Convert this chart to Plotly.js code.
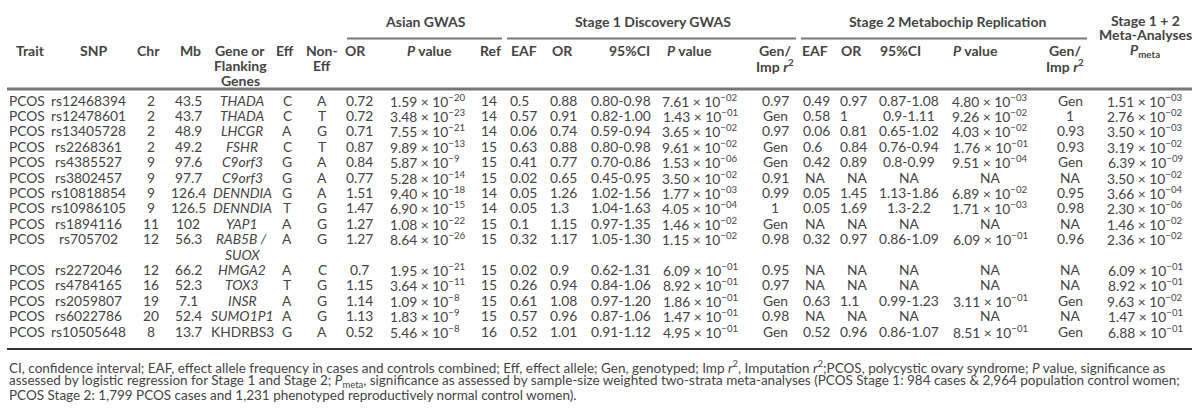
<!DOCTYPE html>
<html><head><meta charset="utf-8">
<script src="https://cdn.plot.ly/plotly-3.0.1.min.js"></script>
<style>html,body{margin:0;padding:0;background:#fff}#chart{width:1200px;height:414px}</style>
</head><body><div id="chart"></div>
<script>
// ---- data ----
const trait = ["PCOS","PCOS","PCOS","PCOS","PCOS","PCOS","PCOS","PCOS","PCOS","PCOS","PCOS","PCOS","PCOS","PCOS","PCOS"];
const snp = ["rs12468394","rs12478601","rs13405728","rs2268361","rs4385527","rs3802457","rs10818854","rs10986105","rs1894116","rs705702","rs2272046","rs4784165","rs2059807","rs6022786","rs10505648"];
const chr = ["2","2","2","2","9","9","9","9","11","12","12","16","19","20","8"];
const mb = ["43.5","43.7","48.9","49.2","97.6","97.7","126.4","126.5","102","56.3","66.2","52.3","7.1","52.4","13.7"];
const gene = ["THADA","THADA","LHCGR","FSHR","C9orf3","C9orf3","DENNDIA","DENNDIA","YAP1","RAB5B /|SUOX","HMGA2","TOX3","INSR","SUMO1P1","KHDRBS3"];
const geneItalic = [true,true,true,true,true,true,true,true,true,true,true,true,true,true,false];
const eff = ["C","C","A","C","G","G","G","T","A","A","A","T","A","A","G"];
const nonEff = ["A","T","G","T","A","A","A","G","G","G","C","G","G","G","A"];
const asianOR = ["0.72","0.72","0.71","0.87","0.84","0.77","1.51","1.47","1.27","1.27","0.7","1.15","1.14","1.13","0.52"];
const asianPMant = ["1.59","3.48","7.55","9.89","5.87","5.28","9.40","6.90","1.08","8.64","1.95","3.64","1.09","1.83","5.46"];
const asianPExp = ["20","23","21","13","9","14","18","15","22","26","21","11","8","9","8"];
const ref = ["14","14","14","15","15","15","14","14","15","15","15","15","15","15","16"];
const s1EAF = ["0.5","0.57","0.06","0.63","0.41","0.02","0.05","0.05","0.1","0.32","0.02","0.26","0.61","0.57","0.52"];
const s1OR = ["0.88","0.91","0.74","0.88","0.77","0.65","1.26","1.3","1.15","1.17","0.9","0.94","1.08","0.96","1.01"];
const s1CI = ["0.80-0.98","0.82-1.00","0.59-0.94","0.80-0.98","0.70-0.86","0.45-0.95","1.02-1.56","1.04-1.63","0.97-1.35","1.05-1.30","0.62-1.31","0.84-1.06","0.97-1.20","0.87-1.06","0.91-1.12"];
const s1PMant = ["7.61","1.43","3.65","9.61","1.53","3.50","1.77","4.05","1.46","1.15","6.09","8.92","1.86","1.47","4.95"];
const s1PExp = ["02","01","02","02","06","02","03","04","02","02","01","01","01","01","01"];
const s1Imp = ["0.97","Gen","0.97","Gen","Gen","0.91","0.99","1","Gen","0.98","0.95","0.97","Gen","0.98","Gen"];
const s2EAF = ["0.49","0.58","0.06","0.6","0.42","NA","0.05","0.05","NA","0.32","NA","NA","0.63","NA","0.52"];
const s2OR = ["0.97","1","0.81","0.84","0.89","NA","1.45","1.69","NA","0.97","NA","NA","1.1","NA","0.96"];
const s2CI = ["0.87-1.08","0.9-1.11","0.65-1.02","0.76-0.94","0.8-0.99","NA","1.13-1.86","1.3-2.2","NA","0.86-1.09","NA","NA","0.99-1.23","NA","0.86-1.07"];
const s2PMant = ["4.80","9.26","4.03","1.76","9.51","NA","6.89","1.71","NA","6.09","NA","NA","3.11","NA","8.51"];
const s2PExp = ["03","02","02","01","04","","02","03","","01","","","01","","01"];
const s2Imp = ["Gen","1","0.93","0.93","Gen","NA","0.95","0.98","NA","0.96","NA","NA","Gen","NA","Gen"];
const pMetaMant = ["1.51","2.76","3.50","3.19","6.39","3.50","3.66","2.30","1.46","2.36","6.09","8.92","9.63","1.47","6.88"];
const pMetaExp = ["03","02","03","02","09","02","04","06","02","02","01","01","02","01","01"];

const groupHeaders = ["Asian GWAS","Stage 1 Discovery GWAS","Stage 2 Metabochip Replication"];
const footnotes = [
 "CI, confidence interval; EAF, effect allele frequency in cases and controls combined; Eff, effect allele; Gen, genotyped; Imp <i>r</i><sup>2</sup>, Imputation <i>r</i><sup>2</sup>;PCOS, polycystic ovary syndrome; <i>P</i> value, significance as",
 "assessed by logistic regression for Stage 1 and Stage 2; <i>P</i><sub>meta</sub>, significance as assessed by sample-size weighted two-strata meta-analyses (PCOS Stage 1: 984 cases &amp; 2,964 population control women;",
 "PCOS Stage 2: 1,799 PCOS cases and 1,231 phenotyped reproductively normal control women)."
];

// ---- rendering helpers ----
const FONT = "Lato";
const COL = "#444";
const fmtP = (m, e) => m === "NA" ? "NA" : m + " × 10<sup>−" + e + "</sup>";

const columns = [
 {get:i=>trait[i], x:7, a:"left"},
 {get:i=>snp[i], x:88, a:"center"},
 {get:i=>chr[i], x:151, a:"center"},
 {get:i=>mb[i], x:188, a:"center"},
 {get:i=>gene[i], x:242, a:"center", italic:i=>geneItalic[i]},
 {get:i=>eff[i], x:287, a:"center"},
 {get:i=>nonEff[i], x:322, a:"center"},
 {get:i=>asianOR[i], x:359, a:"center"},
 {get:i=>fmtP(asianPMant[i], asianPExp[i]), x:388, a:"left"},
 {get:i=>ref[i], x:489, a:"center"},
 {get:i=>s1EAF[i], x:508, a:"left"},
 {get:i=>s1OR[i], x:548, a:"left"},
 {get:i=>s1CI[i], x:621, a:"center"},
 {get:i=>fmtP(s1PMant[i], s1PExp[i]), x:700, a:"center"},
 {get:i=>s1Imp[i], x:775, a:"center"},
 {get:i=>s2EAF[i], x:801, a:"left", naX:815},
 {get:i=>s2OR[i], x:838, a:"left", naX:857},
 {get:i=>s2CI[i], x:909, a:"center"},
 {get:i=>fmtP(s2PMant[i], s2PExp[i]), x:990, a:"center"},
 {get:i=>s2Imp[i], x:1070, a:"center"},
 {get:i=>fmtP(pMetaMant[i], pMetaExp[i]), x:1145, a:"center"}
];

const annotations = [];
function txt(x, y, text, anchor, size) {
  annotations.push({x:x, y:y, xref:"x", yref:"y", text:text, showarrow:false,
    xanchor:anchor || "center", yanchor:"middle",
    font:{family:FONT, size:size, color:COL}});
}

// data rows
const DATA_SIZE = 13.8;
const ROW0 = 100, ROWH = 15.4;
let line = 0;
for (let i = 0; i < snp.length; i++) {
  let extra = 0;
  columns.forEach(c => {
    const parts = c.get(i).split("|");
    extra = Math.max(extra, parts.length - 1);
    parts.forEach((p, k) => {
      let t = p;
      if (c.italic && c.italic(i)) t = "<i>" + t + "</i>";
      let x = c.x, a = c.a;
      if (p === "NA" && c.naX) { x = c.naX; a = "center"; }
      txt(x, ROW0 + ROWH * (line + k), t, a, DATA_SIZE);
    });
  });
  line += 1 + extra;
}

// headers
const B = s => "<b>" + s + "</b>";
const H1 = 50, H2 = 65, H3 = 80;
const headerDefs = [
 [30,H1,"Trait"],[93,H1,"SNP"],[148,H1,"Chr"],[190,H1,"Mb"],
 [240,H1,"Gene or"],[240,H2,"Flanking"],[240,H3,"Genes"],
 [285,H1,"Eff"],[322,H1,"Non-"],[322,H2,"Eff"],
 [355,H1,"OR"],[429,H1,"<i>P</i> value"],[490,H1,"Ref"],
 [524,H1,"EAF"],[562,H1,"OR"],[629,H1,"95%CI"],[689,H1,"<i>P</i> value"],[775,H1,"Gen/"],[775,H2,"Imp <i>r</i><sup>2</sup>"],
 [815,H1,"EAF"],[851,H1,"OR"],[900,H1,"95%CI"],[975,H1,"<i>P</i> value"],[1065,H1,"Gen/"],[1065,H2,"Imp <i>r</i><sup>2</sup>"],
 [1145,20,"Stage 1 + 2"],[1145,34,"Meta-Analyses"],[1145,H1,"<i>P</i><sub>meta</sub>"]
];
headerDefs.forEach(h => txt(h[0], h[1], B(h[2]), "center", 14));
const groupX = [425, 653, 947];
groupHeaders.forEach((g, k) => txt(groupX[k], 21, B(g), "center", 14));

// footnotes
footnotes.forEach((f, k) => txt(7, 366.5 + 14 * k, f, "left", 13.5));

// rules
const shapes = [];
function hline(x0, x1, y, w, c) {
  shapes.push({type:"line", xref:"x", yref:"y", x0:x0, x1:x1, y0:y, y1:y, line:{color:c, width:w}});
}
hline(347, 502, 38.5, 2, "#777");
hline(507, 796, 38.5, 2, "#777");
hline(801, 1087, 38.5, 2, "#777");
hline(7, 1192, 89, 3, "#777");
hline(7, 1192, 349, 2, "#333");

Plotly.newPlot("chart", [], {
  width:1200, height:414,
  margin:{l:0, r:0, t:0, b:0},
  paper_bgcolor:"#fff", plot_bgcolor:"#fff",
  font:{family:FONT, color:COL},
  xaxis:{range:[0,1200], visible:false, fixedrange:true},
  yaxis:{range:[414,0], visible:false, fixedrange:true},
  showlegend:false,
  annotations:annotations, shapes:shapes
}, {displayModeBar:false, staticPlot:true});
</script></body></html>
